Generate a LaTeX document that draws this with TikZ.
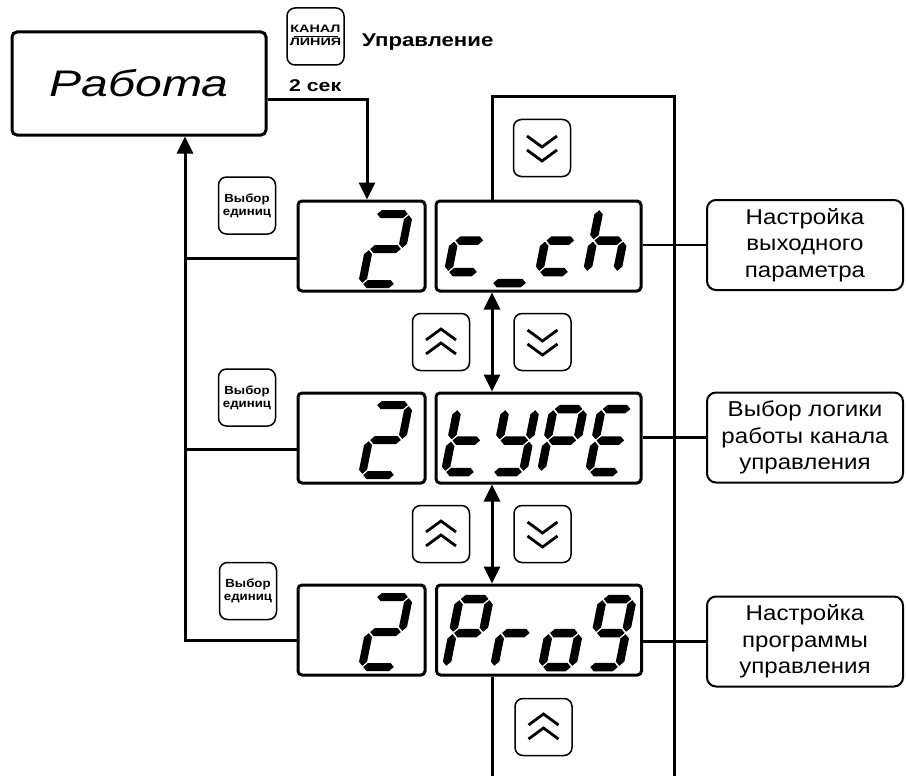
\documentclass[tikz,border=0pt]{standalone}
\usepackage{fontspec}
\usepackage{graphicx}
\setmainfont{Liberation Sans}
\usetikzlibrary{arrows.meta}
\def\gW{26}\def\gH{63}\def\gT{8}\def\gG{1.2}\def\gS{0.2}
\newcommand\hsegm[1]{\fill (\gG,#1) -- ({\gG+\gT/2},{#1+\gT/2}) -- ({\gW-\gG-\gT/2},{#1+\gT/2}) -- ({\gW-\gG},#1) -- ({\gW-\gG-\gT/2},{#1-\gT/2}) -- ({\gG+\gT/2},{#1-\gT/2}) -- cycle;}
\newcommand\vsegm[3]{\fill (#1,{#2+\gG}) -- ({#1+\gT/2},{#2+\gG+\gT/2}) -- ({#1+\gT/2},{#3-\gG-\gT/2}) -- (#1,{#3-\gG}) -- ({#1-\gT/2},{#3-\gG-\gT/2}) -- ({#1-\gT/2},{#2+\gG+\gT/2}) -- cycle;}
\def\sega{\hsegm{\gH}}
\def\segb{\vsegm{\gW}{\gH/2}{\gH}}
\def\segc{\vsegm{\gW}{0}{\gH/2}}
\def\segd{\hsegm{0}}
\def\sege{\vsegm{0}{0}{\gH/2}}
\def\segf{\vsegm{0}{\gH/2}{\gH}}
\def\segg{\hsegm{\gH/2}}
\newcommand\glyph[3]{\begin{scope}[shift={(#1,#2)},y=1pt,xslant=\gS]\foreach \s in {#3}{\csname seg\s\endcsname}\end{scope}}
\newcommand\wideA[1]{\scalebox{1.12}[1]{#1}}
\newcommand\wideB[1]{\scalebox{1.2}[1]{#1}}
\newcommand\wideC[1]{\scalebox{1.12}[1]{#1}}
\begin{document}
\begin{tikzpicture}[x=1pt,y=-1pt,
  mainbox/.style={draw,line width=3pt,rounded corners=5pt,inner sep=0pt,minimum width=254pt,minimum height=103pt},
  ldisp/.style={draw,line width=3pt,rounded corners=4pt,inner sep=0pt,minimum width=127pt,minimum height=90pt},
  rdisp/.style={draw,line width=3pt,rounded corners=4pt,inner sep=0pt,minimum width=205pt,minimum height=90pt},
  key/.style={draw,line width=1.5pt,rounded corners=8pt,inner sep=0pt,minimum size=57pt,align=center},
  ukey/.style={key,font=\bfseries\fontsize{11.8}{13}\selectfont},
  lbl/.style={draw,line width=2pt,rounded corners=9pt,inner sep=0pt,minimum width=196pt,minimum height=90pt,align=center,font=\fontsize{21.5}{26.7}\selectfont},
  conn/.style={line width=3pt},
  rconn/.style={line width=2.5pt},
  arr/.style={line width=3pt,-{Triangle[length=17pt,width=16pt]}},
  darr/.style={line width=3pt,{Triangle[length=17pt,width=16pt]}-{Triangle[length=17pt,width=16pt]}},
  chev/.style={line width=2.8pt,line join=miter},
  pics/chdn/.style={code={\draw[chev] (-15,-12)--(0,-1)--(15,-12); \draw[chev] (-15,2)--(0,13)--(15,2);}},
  pics/chup/.style={code={\draw[chev] (-15,12)--(0,1)--(15,12); \draw[chev] (-15,-2)--(0,-13)--(15,-2);}}
]
\useasboundingbox (0,0) rectangle (906,776);

% main box and key
\node[mainbox,font=\fontsize{37}{40}\selectfont\itshape] (rab) at (139,83.5) {\scalebox{1.3}[1]{Работа}};
\node[key] (kk) at (315.5,36.5) {};
\node[font=\bfseries\fontsize{10.8}{12}\selectfont] (kt1) at (315.5,29) {\scalebox{1.33}[1]{КАНАЛ}};
\node[font=\bfseries\fontsize{10.8}{12}\selectfont] (kt2) at (315.5,41.5) {\scalebox{1.33}[1]{ЛИНИЯ}};
\draw[line width=1pt] ([xshift=-22pt]kk.center) -- ([xshift=22pt]kk.center);
\node[font=\bfseries\fontsize{18.5}{20}\selectfont,anchor=base west,inner sep=0pt] (upr) at (362,47) {\wideB{Управление}};
\node[font=\bfseries\fontsize{17}{20}\selectfont,anchor=base west,inner sep=0pt] (sek) at (289,92) {\scalebox{1.25}[1]{2 сек}};

% displays
\node[ldisp] (L1) at (361.5,246) {};
\node[ldisp] (L2) at (361.5,438) {};
\node[ldisp] (L3) at (361.5,630) {};
\node[rdisp] (R1) at (538.5,246) {};
\node[rdisp] (R2) at (538.5,438) {};
\node[rdisp] (R3) at (539,630) {};

% label boxes
\node[lbl] (T1) at (805,245) {\wideA{Настройка}\\\wideA{выходного}\\\wideA{параметра}};
\node[lbl] (T2) at (805,437.5) {\wideA{Выбор логики}\\\wideA{работы канала}\\\wideA{управления}};
\node[lbl] (T3) at (805,641.5) {\wideA{Настройка}\\\wideA{программы}\\\wideA{управления}};

% unit keys
\node[ukey] (V1) at (247,205.5) {\wideC{Выбор}\\\wideC{единиц}};
\node[ukey] (V2) at (247,397.5) {\wideC{Выбор}\\\wideC{единиц}};
\node[ukey] (V3) at (248,591) {\wideC{Выбор}\\\wideC{единиц}};

% arrow keys
\node[key] (KD0) at (542,148) {};  \pic at (KD0) {chdn};
\node[key] (KU1) at (441,342) {};  \pic at (KU1) {chup};
\node[key] (KD1) at (542.5,342) {}; \pic at (KD1) {chdn};
\node[key] (KU2) at (441,534) {};  \pic at (KU2) {chup};
\node[key] (KD2) at (542.5,534) {}; \pic at (KD2) {chdn};
\node[key] (KU3) at (543.5,727) {}; \pic at (KU3) {chup};

% coordinates
\coordinate (ta) at (367,100);
\coordinate (lx) at (185,0);
\coordinate (r1) at (0,258);
\coordinate (r2) at (0,449);
\coordinate (r3) at (0,640);
\coordinate (fx) at (492,97);
\coordinate (fr) at (674,97);
\coordinate (fb) at (674,776);
\coordinate (fl) at (492,776);

% connectors
\draw[arr] (rab.east |- ta) -- (ta) -- (ta |- L1.north);
\draw[conn] (L1.west |- r1) -- (lx |- r1);
\draw[conn] (L2.west |- r2) -- (lx |- r2);
\draw[arr] (L3.west |- r3) -- (lx |- r3) -- (lx |- rab.south);
\draw[conn] (fx |- R1.north) -- (fx) -- (fr) -- (fb);
\draw[darr] (fx |- R1.south) -- (fx |- R2.north);
\draw[darr] (fx |- R2.south) -- (fx |- R3.north);
\draw[conn] (fx |- R3.south) -- (fl);
\draw[rconn] (R1.east |- T1.west) -- (T1.west);
\draw[rconn] (R2.east |- T2.west) -- (T2.west);
\draw[rconn] (R3.east |- T3.west) -- (T3.west);

% seven-segment glyphs: left displays
\def\gW{33}\def\gH{70}
\glyph{362}{284}{a,b,g,e,d}
\glyph{362}{475}{a,b,g,e,d}
\glyph{362}{667}{a,b,g,e,d}
% c_ch
\def\gW{30}\def\gH{63}\def\gT{8.5}
\glyph{448}{272}{g,e,d}
{\def\gW{35}\glyph{492}{283}{d}}
\glyph{539}{272}{g,e,d}
\glyph{587}{272}{f,e,g,c}
% tYPE
\glyph{445}{472}{d,e,f,g}
\glyph{493}{472}{b,c,d,f,g}
\glyph{541}{472}{a,b,e,f,g}
\glyph{589}{472}{a,d,e,f,g}
% Pro9
\def\gH{68}
\glyph{446}{667}{a,b,e,f,g}
\glyph{494}{667}{e,g}
\glyph{542}{667}{c,d,e,g}
\glyph{589}{667}{a,b,c,d,f,g}
\end{tikzpicture}
\end{document}
